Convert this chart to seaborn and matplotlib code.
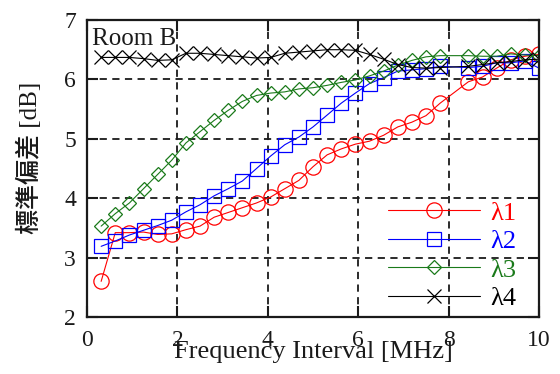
import matplotlib
matplotlib.use("Agg")
import matplotlib.pyplot as plt
import seaborn as sns

sns.set_theme(style="ticks")
plt.rcParams['font.family'] = ['Liberation Serif', 'Noto Sans CJK JP']

# frequency interval [MHz] (no data at 8.125)
freq = [0.3125, 0.625, 0.9375, 1.25, 1.5625, 1.875, 2.1875, 2.5, 2.8125, 3.125,
        3.4375, 3.75, 4.0625, 4.375, 4.6875, 5.0, 5.3125, 5.625, 5.9375, 6.25,
        6.5625, 6.875, 7.1875, 7.5, 7.8125, 8.4375, 8.75, 9.0625, 9.375, 9.6875, 10.0]

lam1 = [2.60, 3.42, 3.42, 3.43, 3.39, 3.40, 3.47, 3.53, 3.68, 3.76,
        3.84, 3.92, 4.02, 4.16, 4.30, 4.53, 4.73, 4.83, 4.91, 4.96,
        5.06, 5.20, 5.28, 5.39, 5.60, 5.96, 6.04, 6.19, 6.33, 6.39, 6.42]
lam2 = [3.19, 3.28, 3.38, 3.46, 3.54, 3.63, 3.77, 3.89, 4.04, 4.16,
        4.29, 4.50, 4.71, 4.90, 5.03, 5.20, 5.40, 5.60, 5.77, 5.93,
        6.03, 6.14, 6.16, 6.18, 6.22, 6.20, 6.22, 6.28, 6.28, 6.31, 6.19]
lam3 = [3.53, 3.74, 3.92, 4.16, 4.40, 4.64, 4.93, 5.12, 5.31, 5.48,
        5.63, 5.73, 5.77, 5.79, 5.84, 5.86, 5.90, 5.95, 5.99, 6.06,
        6.14, 6.24, 6.32, 6.38, 6.40, 6.40, 6.39, 6.39, 6.43, 6.41, 6.40]
lam4 = [6.37, 6.37, 6.37, 6.35, 6.32, 6.33, 6.44, 6.44, 6.42, 6.40,
        6.38, 6.36, 6.37, 6.44, 6.46, 6.48, 6.50, 6.50, 6.49, 6.42,
        6.34, 6.25, 6.20, 6.19, 6.20, 6.22, 6.25, 6.28, 6.30, 6.33, 6.34]

series = [
    ("λ1", lam1, "#ff0000", "o", 11),
    ("λ2", lam2, "#0000ff", "s", 10.5),
    ("λ3", lam3, "#1a7a1a", "D", 7),
    ("λ4", lam4, "#000000", "x", 10),
]

fig = plt.figure(figsize=(5.6, 3.74), dpi=100)
ax = fig.add_axes([0.1554, 0.1524, 0.8071, 0.7941])

for name, vals, col, mk, ms in series:
    sns.lineplot(x=freq, y=vals, color=col, marker=mk, ms=ms, mfc='none', mec=col,
                 mew=0.9, lw=0.8, label=name, ax=ax)

ax.set_xlim(0, 10)
ax.set_ylim(2, 7)
ax.set_xticks([0, 2, 4, 6, 8, 10])
ax.set_yticks([2, 3, 4, 5, 6, 7])
ax.set_axisbelow(True)
ax.grid(True, ls=(0, (4, 3)), color='k', lw=1.3)
for s in ax.spines.values():
    s.set_linewidth(1.6)
    s.set_color('k')
ax.tick_params(direction='in', length=8, width=1.5, top=True, right=True,
               labelsize=17, colors='k')
ax.tick_params(axis='x', pad=9)
ax.tick_params(axis='y', pad=8)

ax.set_xlabel("Frequency Interval [MHz]", fontsize=19, color='k')
ax.xaxis.set_label_coords(0.5, -0.08)
ax.set_ylabel("標準偏差 [dB]", fontsize=18, color='k', fontweight='medium')
ax.yaxis.set_label_coords(-0.10, 0.535)

ax.text(0.01, 0.916, "Room B", transform=ax.transAxes, fontsize=18,
        va='baseline', ha='left', color='k')

leg = ax.legend(loc='lower right', frameon=False, fontsize=19, handlelength=3.5,
                handletextpad=0.38, labelspacing=0.19, borderaxespad=0.2,
                bbox_to_anchor=(0.985, -0.03))
for txt, ln in zip(leg.get_texts(), leg.get_lines()):
    txt.set_color(ln.get_color())

fig.savefig("out.png", dpi=100)
